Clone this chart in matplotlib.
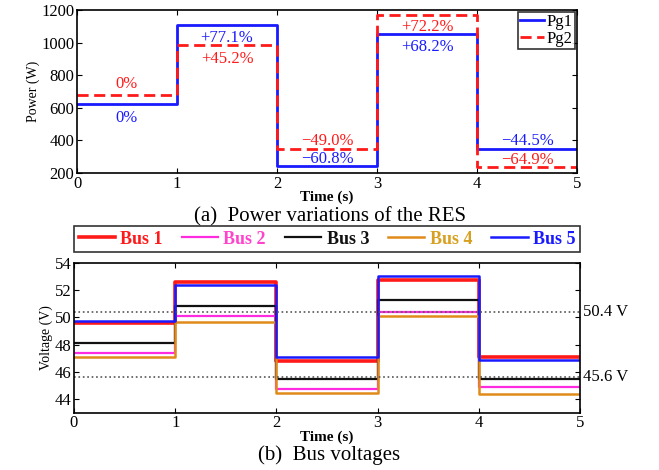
import numpy as np
import matplotlib.pyplot as plt

plt.rcParams['font.family'] = ['Liberation Serif', 'DejaVu Serif']

# time edges (s)
t = [0, 1, 2, 3, 4, 5]

# power of the RES (W), one value per 1 s interval
pg1 = [625, 1107, 245, 1051, 347]
pg2 = [680, 987, 347, 1171, 239]
pg1_txt = ['0%', '+77.1%', '\u221260.8%', '+68.2%', '\u221244.5%']
pg2_txt = ['0%', '+45.2%', '\u221249.0%', '+72.2%', '\u221264.9%']

# bus voltages (V)
bus_names = ['Bus 1', 'Bus 2', 'Bus 3', 'Bus 4', 'Bus 5']
bus1 = [49.6, 52.55, 46.8, 52.75, 47.05]
bus2 = [47.4, 50.1, 44.75, 50.4, 44.85]
bus3 = [48.1, 50.8, 45.45, 51.25, 45.45]
bus4 = [47.05, 49.65, 44.45, 50.1, 44.4]
bus5 = [49.75, 52.35, 47.05, 53.0, 46.85]
limits = [50.4, 45.6]

bus_vals = [bus1, bus2, bus3, bus4, bus5]
line_cols = ['#ff1a1a', '#ff2be0', '#111111', '#e08a1a', '#1a1aff']
text_cols = ['#ff1a1a', '#ff44cc', '#111111', '#d8a020', '#1a1aff']
widths = [2.6, 1.6, 1.6, 1.8, 1.8]

# label offset (points) from its own line, + above / - below
pg1_off = [-10.5, -9, 4.8, -9.5, 5.5]
pg2_off = [8, -10.5, 5.5, -9, 4.8]


def stepv(v):
    return list(v) + [v[-1]]


fig = plt.figure(figsize=(6.59, 4.70), dpi=100)

# ---- (a) power
ax1 = fig.add_axes([77/659, 1-173/470, 500/659, 163/470])
ax1.step(t, stepv(pg1), where='post', color='#1a1aff', lw=2, label='Pg1')
ax1.step(t, stepv(pg2), where='post', color='#ff1a1a', lw=2, ls=(0, (4, 2)), label='Pg2')
ax1.set_xlim(0, 5)
ax1.set_ylim(200, 1200)
ax1.set_yticks(range(200, 1201, 200))
ax1.tick_params(direction='in', top=True, right=True, labelsize=12, pad=2)
for s in ax1.spines.values():
    s.set_linewidth(1.2)
ax1.set_ylabel('Power (W)', fontsize=10, labelpad=1)
ax1.set_xlabel('Time (s)', fontsize=11, fontweight='bold', labelpad=-1)

for vals, txts, offs, col in [(pg1, pg1_txt, pg1_off, '#1a1aff'),
                              (pg2, pg2_txt, pg2_off, '#ff1a1a')]:
    for i in range(5):
        ax1.annotate(txts[i], xy=(t[i] + 0.5, vals[i]),
                     xytext=(0, offs[i]), textcoords='offset points',
                     color=col, ha='center', va='center', fontsize=12)

leg1 = ax1.legend(loc='upper right', fontsize=12, frameon=True, fancybox=False,
                  edgecolor='black', handlelength=1.4, handletextpad=0.2,
                  borderpad=0.15, labelspacing=0.05, borderaxespad=0.1)
leg1.get_frame().set_linewidth(1.2)

fig.text(0.5, 1-217/470, '(a)  Power variations of the RES', ha='center', va='center', fontsize=15)

# ---- (b) voltages
ax2 = fig.add_axes([74/659, 1-412.7/470, 506/659, 150/470])
for v, c, w, n in zip(bus_vals, line_cols, widths, bus_names):
    ax2.step(t, stepv(v), where='post', color=c, lw=w, label=n)
for lv in limits:
    ax2.axhline(lv, color='#555555', ls=':', lw=1.2)
    ax2.text(5.03, lv, '%.1f V' % lv, ha='left', va='center', fontsize=12, clip_on=False)
ax2.set_xlim(0, 5)
ax2.set_ylim(43, 54)
ax2.set_yticks(range(44, 55, 2))
ax2.tick_params(direction='in', top=True, right=True, labelsize=12, pad=2)
for s in ax2.spines.values():
    s.set_linewidth(1.2)
ax2.set_ylabel('Voltage (V)', fontsize=10, labelpad=1)
ax2.set_xlabel('Time (s)', fontsize=11, fontweight='bold', labelpad=-1)

leg2 = ax2.legend(loc='lower left', bbox_to_anchor=(0, 1.07, 1, 0.16), mode='expand', ncol=5,
                  fontsize=13, frameon=True, fancybox=False, edgecolor='black',
                  handlelength=2.0, handletextpad=0.3, columnspacing=0.2, borderpad=0.25,
                  borderaxespad=0)
leg2.get_frame().set_linewidth(1.2)
for txt, c in zip(leg2.get_texts(), text_cols):
    txt.set_color(c)
    txt.set_fontweight('bold')

fig.text(0.5, 1-455/470, '(b)  Bus voltages', ha='center', va='center', fontsize=15)

fig.savefig('out.png', dpi=100)
